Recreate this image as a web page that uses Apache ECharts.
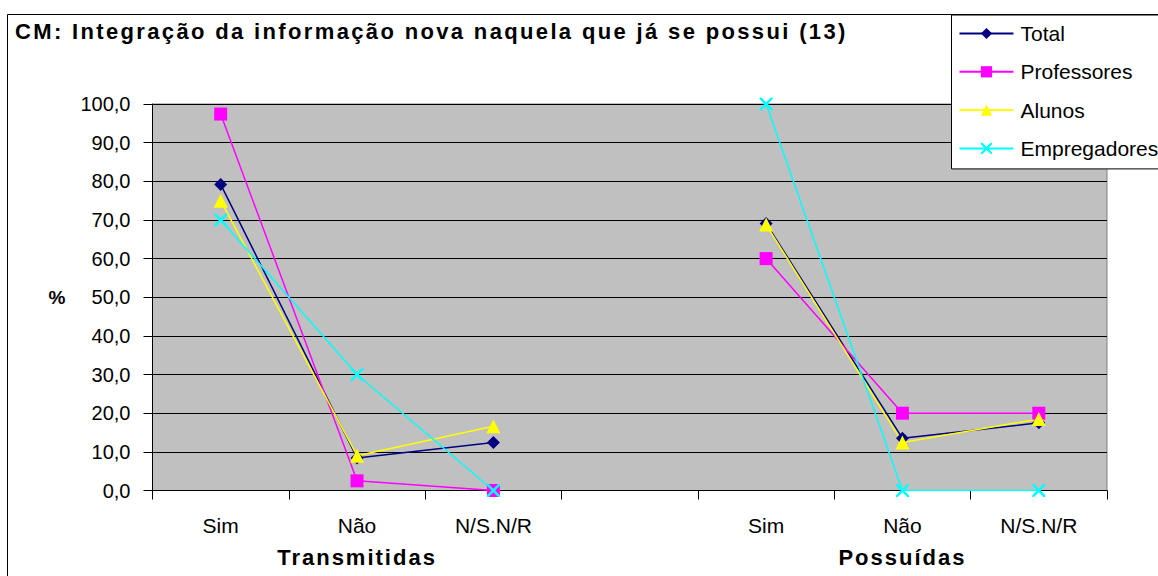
<!DOCTYPE html>
<html><head><meta charset="utf-8">
<script src="https://cdn.jsdelivr.net/npm/echarts@6/dist/echarts.min.js"></script>
<style>
html,body{margin:0;padding:0;background:#fff}
#c{width:1158px;height:576px}
text[style*="ttitle"]{letter-spacing:2.35px}
text[style*="tgroup"]{letter-spacing:2px}
</style>
</head><body><div id="c"></div>
<script>
const categories = ['Sim', 'Não', 'N/S.N/R', '', 'Sim', 'Não', 'N/S.N/R'];
const groupLabels = ['', 'Transmitidas', '', '', '', 'Possuídas', ''];
const total = [79.2, 8.4, 12.4, null, 69.1, 13.5, 17.5];
const professores = [97.4, 2.5, 0.0, null, 60.0, 20.0, 20.0];
const alunos = [75.0, 9.0, 16.6, null, 68.8, 12.4, 18.5];
const empregadores = [70.0, 30.0, 0.0, null, 100.0, 0.0, 0.0];
const yTicks = {min: 0, max: 100, interval: 10};

const F = 'Liberation Sans, Arial';
const xPath = 'path://M0,0L1.4,0L5,3.6L8.6,0L10,0L10,1.4L6.4,5L10,8.6L10,10L8.6,10L5,6.4L1.4,10L0,10L0,8.6L3.6,5L0,1.4Z';

function mk(name, data, color, symbol, size) {
  return {
    name, type: 'line', data, connectNulls: false,
    symbol, symbolSize: size,
    lineStyle: {color, width: 1.5},
    itemStyle: {color, borderWidth: 0},
    emphasis: {disabled: true},
    animation: false
  };
}

const chart = echarts.init(document.getElementById('c'), null, {renderer: 'svg'});
chart.setOption({
  backgroundColor: '#fff',
  animation: false,
  title: {
    text: 'CM: Integração da informação nova naquela que já se possui (13)',
    left: 10, top: 15.7,
    textStyle: {fontFamily: F + ', ttitle', fontSize: 22, fontWeight: 'bold', color: '#000'}
  },
  graphic: [{
    type: 'rect', silent: true, z: -1,
    shape: {x: 7.5, y: 14.5, width: 1160, height: 600},
    style: {fill: 'none', stroke: '#000', lineWidth: 1}
  }],
  legend: {
    orient: 'vertical', left: 951.5, top: 15,
    padding: [8, 60, 10, 7],
    itemWidth: 54, itemHeight: 14, itemGap: 17.3,
    backgroundColor: '#fff', borderColor: '#000', borderWidth: 1,
    textStyle: {fontFamily: F + ', tlegend', fontSize: 21, color: '#000', padding: [0, 0, 0, 2]},
    data: ['Total', 'Professores', 'Alunos', 'Empregadores']
  },
  grid: {
    left: 152.5, right: 51, top: 104, bottom: 85.5,
    show: true, backgroundColor: '#c0c0c0', borderColor: '#808080', borderWidth: 1
  },
  xAxis: [{
    type: 'category', data: categories, boundaryGap: true,
    axisLine: {lineStyle: {color: '#000', width: 1}},
    axisTick: {show: true, length: 9, lineStyle: {color: '#000'}},
    axisLabel: {fontFamily: F + ', tcat', fontSize: 21, color: '#000', margin: 24.5, interval: 0},
    splitLine: {show: false}
  }, {
    type: 'category', data: groupLabels, position: 'bottom', boundaryGap: true,
    axisLine: {show: false}, axisTick: {show: false}, splitLine: {show: false},
    axisLabel: {fontFamily: F + ', tgroup', fontSize: 22, fontWeight: 'bold', color: '#000', margin: 55.5, interval: 0}
  }],
  yAxis: {
    type: 'value', min: yTicks.min, max: yTicks.max, interval: yTicks.interval,
    name: '%', nameLocation: 'middle', nameRotate: 0, nameGap: 87,
    nameTextStyle: {fontFamily: F, fontSize: 19, fontWeight: 'bold', color: '#000'},
    axisLine: {show: true, lineStyle: {color: '#000', width: 1}},
    axisTick: {show: true, length: 9, lineStyle: {color: '#000'}},
    axisLabel: {fontFamily: F, fontSize: 20, color: '#000', margin: 22,
      formatter: v => v.toFixed(1).replace('.', ',')},
    splitLine: {show: true, lineStyle: {color: '#000', width: 1}}
  },
  series: [
    mk('Total', total, '#000080', 'diamond', 13),
    mk('Professores', professores, '#ff00ff', 'rect', 13),
    mk('Alunos', alunos, '#ffff00', 'triangle', 14),
    mk('Empregadores', empregadores, '#00ffff', xPath, 13)
  ]
});
</script></body></html>
